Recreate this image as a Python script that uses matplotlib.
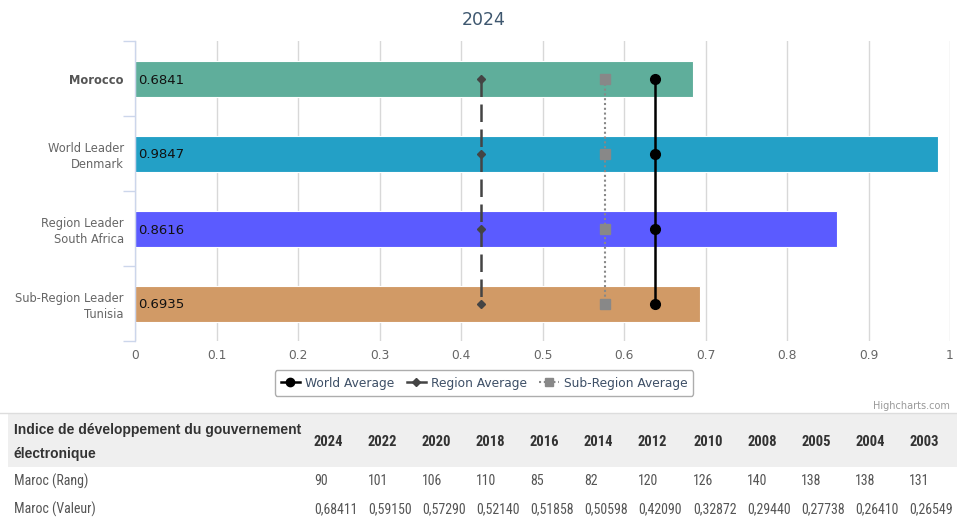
import matplotlib
matplotlib.use("Agg")
import matplotlib.pyplot as plt
from matplotlib.lines import Line2D
from matplotlib.patches import Rectangle
from matplotlib import font_manager

# ---------------- data ----------------
title = "2024"
categories = ["Morocco", "World Leader\nDenmark", "Region Leader\nSouth Africa", "Sub-Region Leader\nTunisia"]
values = [0.6841, 0.9847, 0.8616, 0.6935]
value_labels = ["0.6841", "0.9847", "0.8616", "0.6935"]
bar_colors = ["#5fae9b", "#23a0c6", "#5b5bff", "#d19a66"]
world_avg = [0.638, 0.638, 0.638, 0.638]
region_avg = [0.4245, 0.4245, 0.4245, 0.4245]
subregion_avg = [0.5767, 0.5767, 0.5767, 0.5767]
x_ticks = [0, 0.1, 0.2, 0.3, 0.4, 0.5, 0.6, 0.7, 0.8, 0.9, 1]
x_tick_labels = ["0", "0.1", "0.2", "0.3", "0.4", "0.5", "0.6", "0.7", "0.8", "0.9", "1"]

table_title = "Indice de développement du gouvernement\nélectronique"
years = ["2024", "2022", "2020", "2018", "2016", "2014", "2012", "2010", "2008", "2005", "2004", "2003"]
ranks = ["90", "101", "106", "110", "85", "82", "120", "126", "140", "138", "138", "131"]
scores = ["0,68411", "0,59150", "0,57290", "0,52140", "0,51858", "0,50598",
          "0,42090", "0,32872", "0,29440", "0,27738", "0,26410", "0,26549"]
row_labels = ["Maroc (Rang)", "Maroc (Valeur)"]

# ---------------- fonts ----------------
avail = {f.name for f in font_manager.fontManager.ttflist}
def pick(*names):
    for n in names:
        if n in avail:
            return n
    return "DejaVu Sans"
narrow = pick("Liberation Sans Narrow", "DejaVu Sans Condensed", "Roboto Condensed", "Liberation Sans")
sans = pick("Liberation Sans", "DejaVu Sans")
chart_font = pick("DejaVu Sans")

W, H = 957, 517
fig = plt.figure(figsize=(W / 100, H / 100), dpi=100)

def fx(px):
    return px / W
def fy(py):
    return 1 - py / H

ax = fig.add_axes([fx(135), fy(341), fx(950) - fx(135), fy(41) - fy(341)])
ypos = list(range(len(categories)))
ax.barh(ypos, values, height=0.48, color=bar_colors, edgecolor="white", linewidth=0.8, zorder=2)
for y, lab in zip(ypos, value_labels):
    ax.text(0.004, y, lab, va="center_baseline", ha="left", fontsize=9.5, color="#111111",
            family=chart_font, zorder=5)

ax.plot(world_avg, ypos, color="black", lw=1.8, marker="o", markersize=7, zorder=4)
ax.plot(region_avg, ypos, color="#444444", lw=1.8, dashes=(7, 3), marker="D",
        markersize=4.5, zorder=4)
ax.plot(subregion_avg, ypos, color="#888888", lw=1.5, linestyle=(0, (1, 1.3)), marker="s",
        markersize=6.5, zorder=4)

ax.set_xlim(0, 1)
ax.set_ylim(3.5, -0.5)
ax.set_xticks(x_ticks)
ax.set_xticklabels(x_tick_labels, fontsize=8.8, color="#666666", family=chart_font)
ax.set_yticks(ypos)
ax.set_yticklabels(categories, fontsize=8.3, color="#666666", family=chart_font,
                   linespacing=1.3)
ax.get_yticklabels()[0].set_fontweight("bold")
ax.get_yticklabels()[0].set_color("#555555")
ax.set_yticks([-0.5, 0.5, 1.5, 2.5, 3.5], minor=True)
ax.tick_params(axis="y", which="major", length=0, pad=8)
ax.tick_params(axis="y", which="minor", length=9, color="#ccd6eb", width=1)
ax.tick_params(axis="x", length=0, pad=6)
ax.grid(axis="x", color="#d8d8d8", lw=1, zorder=0)
ax.set_axisbelow(True)
for s in ["top", "right", "bottom"]:
    ax.spines[s].set_visible(False)
ax.spines["left"].set_color("#ccd6eb")
ax.spines["left"].set_linewidth(1)
ax.spines["left"].set_zorder(3)

fig.text(fx(484), fy(20), title, ha="center", va="center", fontsize=12.5,
         color="#3e576f", family=chart_font)

handles = [
    Line2D([], [], color="black", lw=1.8, marker="o", markersize=6),
    Line2D([], [], color="#444444", lw=1.8, marker="D", markersize=4),
    Line2D([], [], color="#888888", lw=1.5, linestyle=(0, (1, 1.3)), marker="s", markersize=5.5),
]
leg = fig.legend(handles, ["World Average", "Region Average", "Sub-Region Average"],
                 loc="center", bbox_to_anchor=(fx(484), fy(383)), ncol=3,
                 frameon=True, fancybox=True, edgecolor="#999999",
                 handlelength=1.6, handletextpad=0.4, columnspacing=1.0,
                 borderpad=0.5, prop={"family": chart_font, "size": 8.8})
leg.get_frame().set_linewidth(1)
for t in leg.get_texts():
    t.set_color("#3d4f66")

fig.text(fx(950), fy(406), "Highcharts.com", ha="right", va="center", fontsize=7,
         color="#999999", family=chart_font)

# ---------------- table ----------------
fig.add_artist(Rectangle((fx(8), fy(467)), 1 - fx(8), fy(414) - fy(467),
                         transform=fig.transFigure, facecolor="#efefef", edgecolor="none"))
fig.add_artist(Line2D([fx(0), 1], [fy(413), fy(413)], transform=fig.transFigure,
                      color="#dddddd", lw=1))
fig.text(fx(14), fy(442), table_title, ha="left", va="center", fontsize=10,
         fontweight="bold", color="#333333", family=sans, linespacing=1.85)
col_x = [314, 368, 422, 476, 530, 584, 638, 693, 747, 801, 855, 909]
for x, yr, rk, sc in zip(col_x, years, ranks, scores):
    fig.text(fx(x), fy(442), yr, ha="left", va="center", fontsize=10.5,
             fontweight="bold", color="#333333", family=narrow)
    fig.text(fx(x), fy(481), rk, ha="left", va="center", fontsize=10,
             color="#555555", family=narrow)
    fig.text(fx(x), fy(509), sc, ha="left", va="center", fontsize=10,
             color="#555555", family=narrow)
fig.text(fx(14), fy(481), row_labels[0], ha="left", va="center", fontsize=10,
         color="#555555", family=narrow)
fig.text(fx(14), fy(509), row_labels[1], ha="left", va="center", fontsize=10,
         color="#555555", family=narrow)

fig.savefig("out.png", dpi=100, facecolor="white")
